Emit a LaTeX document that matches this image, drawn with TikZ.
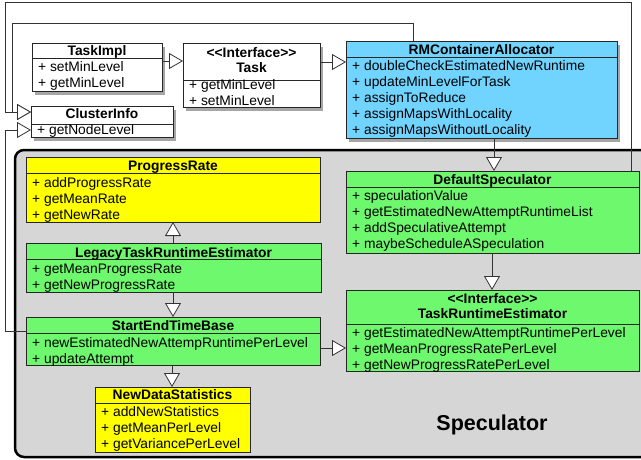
\documentclass[tikz,border=0pt]{standalone}
\usepackage{fontspec}
\setmainfont[Ligatures=TeXOff]{Liberation Sans}
\usetikzlibrary{arrows.meta,shadows,fit}

\definecolor{umlgreen}{HTML}{6EF86E}
\definecolor{umlblue}{HTML}{70D4FF}
\definecolor{umlyellow}{HTML}{FFFF00}
\definecolor{pkggray}{HTML}{D6D6D6}
\definecolor{linegray}{HTML}{333333}

\newcommand\ifc{<\kern0pt<Interface>\kern0pt>}

\tikzset{
  classbox/.style={draw=black!85, line width=0.9pt, inner sep=0pt, outer sep=0pt},
  classline/.style={draw=black!85, line width=0.9pt},
  boxshadow/.style={drop shadow={shadow xshift=2.5pt,shadow yshift=-3.5pt,opacity=0.35,fill=black}},
  hdrtext/.style={font=\bfseries\fontsize{13.8}{15}\selectfont, inner sep=0pt, anchor=base},
  bodytext/.style={font=\fontsize{13.8}{15}\selectfont, inner sep=0pt, anchor=base west, xshift=6pt},
  gen/.style={-{Triangle[length=14pt,width=16pt,fill=white]}, line width=0.8pt, draw=linegray},
  pkgstyle/.style={draw=black, line width=2.5pt, fill=pkggray, rounded corners=9pt, inner sep=0pt},
  pkglabel/.style={font=\bfseries\fontsize{21.5}{24}\selectfont, inner sep=0pt},
}

% #1 name, #2 x1,y1, #3 x2,y2, #4 style, #5 first header baseline, #6 header lines,
% #7 separator y, #8 first body baseline, #9 body lines
\newcommand\umlclass[9]{%
  \node[classbox,#4,fit={(#2) (#3)}] (#1) {};
  \draw[classline] (#1.west |- 0,#7) -- (#1.east |- 0,#7);
  \foreach \txt [count=\i, evaluate=\i as \yy using #5+(\i-1)*15.5] in {#6}
    \node[hdrtext] (#1-h\i) at (#1.north |- 0,\yy) {\txt};
  \foreach \txt [count=\i, evaluate=\i as \yy using #8+(\i-1)*16] in {#9}
    \node[bodytext] (#1-b\i) at (#1.west |- 0,\yy) {\txt};
}

\begin{document}
\begin{tikzpicture}[x=1pt,y=-1pt]
\clip (0,0) rectangle (641,459);
\fill[white] (0,0) rectangle (641,459);

% package
\node[pkgstyle, fit={(15,150) (670,457)}] (speculator) {};
\node[pkglabel] (speclabel) at (492,425) {Speculator};

% classes
\umlclass{taskimpl}{32,43}{162,91}{fill=white,boxshadow}{55}{TaskImpl}{58}{71}{+ setMinLevel,+ getMinLevel}
\umlclass{task}{183,43}{320,107}{fill=white,boxshadow}{57}{\ifc,Task}{80}{89.5}{+ getMinLevel,+ setMinLevel}
\umlclass{cluster}{31,106}{173,137}{fill=white,boxshadow}{118.5}{ClusterInfo}{124}{134.5}{+ getNodeLevel}
\umlclass{rm}{346,41}{617,138}{fill=umlblue,boxshadow}{54}{RMContainerAllocator}{57}{70}{+ doubleCheckEstimatedNewRuntime,+ updateMinLevelForTask,+ assignToReduce,+ assignMapsWithLocality,+ assignMapsWithoutLocality}
\umlclass{progress}{26,157}{320,222}{fill=umlyellow}{170}{ProgressRate}{173}{187}{+ addProgressRate,+ getMeanRate,+ getNewRate}
\umlclass{legacy}{26,243}{321,292}{fill=umlgreen}{257}{LegacyTaskRuntimeEstimator}{259}{273}{+ getMeanProgressRate,+ getNewProgressRate}
\umlclass{setb}{26,317}{320,365}{fill=umlgreen}{330}{StartEndTimeBase}{333}{347}{+ newEstimatedNewAttempRuntimePerLevel,+ updateAttempt}
\umlclass{nds}{95,387}{250,452}{fill=umlyellow}{399}{NewDataStatistics}{403}{416}{+ addNewStatistics,+ getMeanPerLevel,+ getVariancePerLevel}
\umlclass{defspec}{346,171}{639,253}{fill=umlgreen}{184}{DefaultSpeculator}{187}{200}{+ speculationValue,+ getEstimatedNewAttemptRuntimeList,+ addSpeculativeAttempt,+ maybeScheduleASpeculation}
\umlclass{tre}{346,290}{639,371}{fill=umlgreen}{303}{\ifc,TaskRuntimeEstimator}{324}{337}{+ getEstimatedNewAttemptRuntimePerLevel,+ getMeanProgressRatePerLevel,+ getNewProgressRatePerLevel}

% connectors
\draw[gen] (taskimpl.east |- 0,61) -- (task.west |- 0,61);
\draw[gen] (task.east |- 0,62) -- (rm.west |- 0,62);
\draw[gen] (rm.south -| 494,0) -- (defspec.north -| 494,0);
\draw[gen] (defspec.south -| 492,0) -- (tre.north -| 492,0);
\draw[gen] (legacy.north -| 173,0) -- (progress.south -| 173,0);
\draw[gen] (legacy.south -| 173,0) -- (setb.north -| 173,0);
\draw[gen] (setb.south -| 172,0) -- (nds.north -| 172,0);
\draw[gen] (setb.east |- 0,348) -- (tre.west |- 0,348);
\draw[gen] (rm.north -| 413,0) |- (12,23) |- (cluster.west |- 0,112);
\draw[gen] (defspec.north -| 631,0) |- (5,2) |- (cluster.west |- 0,112);
\draw[gen] (setb.west |- 0,331) -| (5,130) -- (cluster.west |- 0,130);
\end{tikzpicture}
\end{document}
